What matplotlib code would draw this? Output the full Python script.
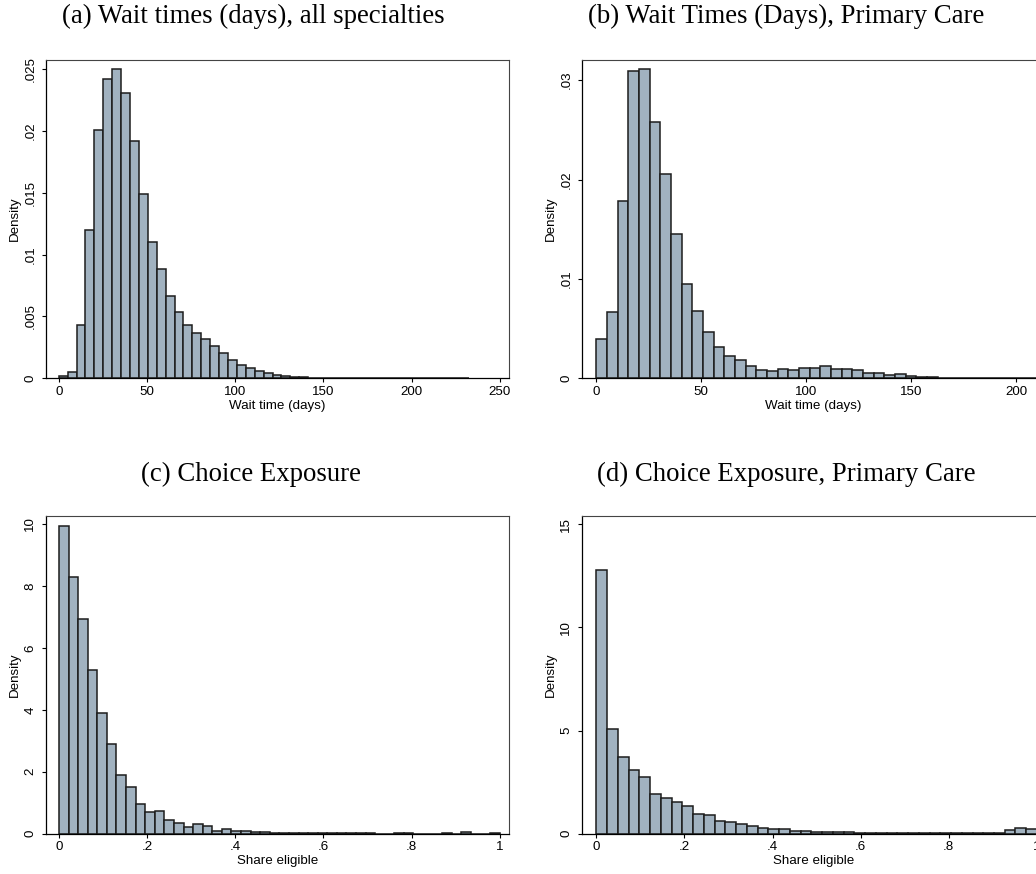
import matplotlib
matplotlib.use("Agg")
import matplotlib.pyplot as plt
import numpy as np

# -------------------------------------------------
# Data (histogram densities)
# -------------------------------------------------

# (a) wait times, all specialties: bins of 5.05 days starting at 0
wait_all_width = 5.05
wait_all_density = [
    0.00016, 0.00054, 0.00429, 0.01197, 0.0201, 0.02424, 0.02505, 0.02306,
    0.01923, 0.01491, 0.0110, 0.00882, 0.00666, 0.00539, 0.00429, 0.00367,
    0.00321, 0.00259, 0.00202, 0.00146, 0.00105, 0.00086, 0.00057, 0.00046,
    0.00027, 0.00016, 0.0001, 0.00007, 0.00005, 0.00004, 0.00004, 0.00003,
    0.00003, 0.00002, 0.00002, 0.00002, 0.00002, 0.0, 0.00002, 0.00002,
    0.0, 0.0, 0.0, 0.0, 0.00002, 0.00002,
]

# (b) wait times, primary care: bins of 5.08 days starting at 0
wait_pc_width = 5.08
wait_pc_density = [
    0.00400, 0.00672, 0.01781, 0.0309, 0.0311, 0.02575, 0.02058, 0.01456,
    0.00953, 0.00673, 0.00467, 0.00312, 0.00224, 0.00182, 0.00125, 0.00086,
    0.00072, 0.00096, 0.00079, 0.00106, 0.00099, 0.00126, 0.00092, 0.00096,
    0.00082, 0.00055, 0.00055, 0.00035, 0.00045, 0.00025, 0.00013, 0.0001,
    0.00004, 0.00003, 0.00003, 0.00002, 0.00002, 0.00002, 0.00002, 0.00002,
    0.00002, 0.00002,
]

# (c) share eligible, all: 46 bins on [0, 1]
share_all_width = 1 / 46
share_all_density = [
    9.95, 8.30, 6.94, 5.30, 3.91, 2.91, 1.88, 1.52, 0.97, 0.71, 0.74, 0.45,
    0.36, 0.23, 0.31, 0.25, 0.08, 0.15, 0.08, 0.08, 0.06, 0.06, 0.02, 0.02,
    0.02, 0.01, 0.02, 0.01, 0.01, 0.01, 0.02, 0.02, 0.01, 0.0, 0.0, 0.01,
    0.02, 0.0, 0.0, 0.0, 0.03, 0.0, 0.06, 0.0, 0.0, 0.02,
]

# (d) share eligible, primary care: 41 bins on [0, 1]
share_pc_width = 1 / 41
share_pc_density = [
    12.76, 5.06, 3.73, 3.10, 2.73, 1.91, 1.71, 1.55, 1.32, 0.97, 0.89, 0.60,
    0.55, 0.45, 0.36, 0.27, 0.24, 0.21, 0.15, 0.11, 0.10, 0.08, 0.10, 0.06,
    0.03, 0.02, 0.02, 0.02, 0.01, 0.01, 0.01, 0.01, 0.01, 0.01, 0.01, 0.03,
    0.01, 0.05, 0.19, 0.26, 0.21,
]

titles = [
    "(a) Wait times (days), all specialties",
    "(b) Wait Times (Days), Primary Care",
    "(c) Choice Exposure",
    "(d) Choice Exposure, Primary Care",
]

wait_xticks = [0, 50, 100, 150, 200, 250]
wait_xlabels = ["0", "50", "100", "150", "200", "250"]
share_xticks = [0, 0.2, 0.4, 0.6, 0.8, 1.0]
share_xlabels = ["0", ".2", ".4", ".6", ".8", "1"]

a_yticks = [0, 0.005, 0.01, 0.015, 0.02, 0.025]
a_ylabels = ["0", ".005", ".01", ".015", ".02", ".025"]
b_yticks = [0, 0.01, 0.02, 0.03]
b_ylabels = ["0", ".01", ".02", ".03"]
c_yticks = [0, 2, 4, 6, 8, 10]
c_ylabels = ["0", "2", "4", "6", "8", "10"]
d_yticks = [0, 5, 10, 15]
d_ylabels = ["0", "5", "10", "15"]

# -------------------------------------------------
# Plot settings
# -------------------------------------------------

plt.rcParams.update({
    "font.family": "Liberation Sans",
    "font.size": 9.6,
    "axes.linewidth": 0.9,
})

bar_color = "#A1B2C0"
edge_color = "#1c1c1c"

W, H = 1036, 874
fig = plt.figure(figsize=(W / 100, H / 100), dpi=100)


def add_axes_px(left, top, right, bottom):
    return fig.add_axes([left / W, 1 - bottom / H, (right - left) / W, (bottom - top) / H])


panels = [
    dict(box=(46, 60, 508.7, 378.3), dens=wait_all_density, width=wait_all_width,
         xlim=(-7.2, 255.0), ylim=(0, 0.02575), xt=wait_xticks, xl=wait_xlabels,
         yt=a_yticks, yl=a_ylabels, xlabel="Wait time (days)"),
    dict(box=(582, 60, 1044.7, 378.3), dens=wait_pc_density, width=wait_pc_width,
         xlim=(-6.8, 213.5), ylim=(0, 0.03203), xt=wait_xticks[:-1], xl=wait_xlabels[:-1],
         yt=b_yticks, yl=b_ylabels, xlabel="Wait time (days)"),
    dict(box=(46, 516, 508.7, 833.7), dens=share_all_density, width=share_all_width,
         xlim=(-0.0295, 1.0204), ylim=(0, 10.26), xt=share_xticks, xl=share_xlabels,
         yt=c_yticks, yl=c_ylabels, xlabel="Share eligible"),
    dict(box=(582, 516, 1044.7, 833.7), dens=share_pc_density, width=share_pc_width,
         xlim=(-0.0325, 1.0175), ylim=(0, 15.4), xt=share_xticks, xl=share_xlabels,
         yt=d_yticks, yl=d_ylabels, xlabel="Share eligible"),
]

for p in panels:
    ax = add_axes_px(*p["box"])
    dens = np.array(p["dens"])
    edges = np.arange(len(dens)) * p["width"]
    ax.bar(edges, dens, width=p["width"], align="edge", color=bar_color,
           edgecolor=edge_color, linewidth=1.1)

    ax.set_xlim(*p["xlim"])
    ax.set_ylim(*p["ylim"])
    ax.set_xticks(p["xt"])
    ax.set_xticklabels(p["xl"])
    ax.set_yticks(p["yt"])
    ax.set_yticklabels(p["yl"], rotation=90, va="center")

    ax.tick_params(axis="both", direction="out", length=3, width=0.8, color="black")
    ax.tick_params(axis="x", pad=2.5)
    ax.tick_params(axis="y", pad=4.0)

    ax.set_xlabel(p["xlabel"])
    ax.xaxis.set_label_coords(0.5, -0.086)
    ax.xaxis.label.set_va("center")
    ax.set_ylabel("Density")
    ax.yaxis.set_label_coords(-0.067, 0.5)
    ax.yaxis.label.set_va("center")

    for side in ["top", "right"]:
        ax.spines[side].set_color("#444444")
        ax.spines[side].set_linewidth(0.8)

# -------------------------------------------------
# Subfigure captions
# -------------------------------------------------

caption_pos = [(253, 16.5), (786, 16.5), (251, 474), (786, 474)]
for title, (cx, cy) in zip(titles, caption_pos):
    fig.text(cx / W, 1 - cy / H, title, ha="center", va="center",
             family="Liberation Serif", fontsize=19.3)

fig.savefig("out.png", dpi=100)
